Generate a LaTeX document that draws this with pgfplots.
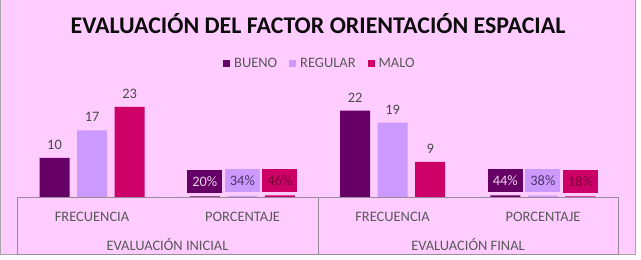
\documentclass[border=0pt]{standalone}
\usepackage{pgfplots}
\pgfplotsset{compat=1.18}
\usepackage{fontspec}
\setmainfont{Carlito}

\definecolor{bueno}{HTML}{660066}
\definecolor{regular}{HTML}{CC99FF}
\definecolor{malo}{HTML}{CC0066}
\definecolor{fondo}{HTML}{FFCCFF}
\definecolor{texto}{HTML}{595959}
\definecolor{dato}{HTML}{4A4A4A}
\definecolor{borde}{HTML}{A6A6A6}
\definecolor{linea}{HTML}{9A8A9A}
\definecolor{txtbueno}{HTML}{EBD2EB}
\definecolor{txtregular}{HTML}{4D3366}
\definecolor{txtmalo}{HTML}{7A0038}

\newcommand{\lblfont}{\fontsize{14.5}{17}\selectfont}

\pgfplotsset{
  freq/.style={
    nodes near coords, point meta=explicit symbolic,
    nodes near coords style={anchor=base, yshift=8.4bp, text=dato, font=\lblfont},
  },
  pct/.style={
    forget plot, nodes near coords, point meta=explicit symbolic,
    nodes near coords style={anchor=south, yshift=3.5bp, fill=#1, inner sep=0pt,
      minimum width=35bp, minimum height=23bp, font=\lblfont},
  },
  sq/.style={legend image code/.code={\fill[##1,draw=none] (0bp,-3.5bp) rectangle (7bp,3.5bp);}},
}

\begin{document}
\begin{tikzpicture}[x=1bp,y=1bp]
% chart area
\fill[white] (0,0) rectangle (641,259);
\fill[fondo] (0.5,5) rectangle (635,259);
\draw[borde] (0.5,259) -- (0.5,5) -- (635,5) -- (635,259);

\node[anchor=base, text=black!95, font=\fontsize{24}{28}\selectfont\bfseries]
  at (318,226) {EVALUACIÓN DEL FACTOR ORIENTACIÓN ESPACIAL};

\begin{axis}[
  at={(17bp,62bp)}, anchor=south west,
  scale only axis, width=601bp, height=117.9bp,
  xmin=0, xmax=4, ymin=0, ymax=30,
  axis lines=none, clip=false,
  ybar, bar width=0.2, bar shift=0pt,
  legend style={at={(0.504,1.137)}, anchor=center, draw=none, fill=none,
    legend columns=-1, font=\lblfont, text=texto,
    /tikz/every odd column/.append style={column sep=2bp},
    /tikz/every even column/.append style={column sep=10bp}},
]
% frequencies
\addplot[fill=bueno, draw=none, freq, sq] coordinates {(0.25,10)[10] (2.25,22)[22]};
\addlegendentry{BUENO}
\addplot[fill=regular, draw=none, freq, sq] coordinates {(0.5,17)[17] (2.5,19)[19]};
\addlegendentry{REGULAR}
\addplot[fill=malo, draw=none, freq, sq] coordinates {(0.75,23)[23] (2.75,9)[9]};
\addlegendentry{MALO}
% percentages
\addplot[fill=bueno, draw=none, pct=bueno, nodes near coords style={text=txtbueno}]
  coordinates {(1.25,0.20)[20\%] (3.25,0.44)[44\%]};
\addplot[fill=regular, draw=none, pct=regular, nodes near coords style={text=txtregular}]
  coordinates {(1.5,0.34)[34\%] (3.5,0.38)[38\%]};
\addplot[fill=malo, draw=none, pct=malo, nodes near coords style={text=txtmalo}]
  coordinates {(1.75,0.46)[46\%] (3.75,0.18)[18\%]};
\end{axis}

% two-level category axis
\draw[linea] (17,62) -- (17,5) -- (618,5) -- (618,62) -- cycle;
\draw[linea] (318,62) -- (318,5);
\begin{scope}[every node/.style={anchor=base, text=texto, font=\lblfont}]
  \node at (92,37.3) {FRECUENCIA};
  \node at (242.5,37.3) {PORCENTAJE};
  \node at (392.5,37.3) {FRECUENCIA};
  \node at (543,37.3) {PORCENTAJE};
  \node at (167.5,9) {EVALUACIÓN INICIAL};
  \node at (468,9) {EVALUACIÓN FINAL};
\end{scope}
\end{tikzpicture}
\end{document}
